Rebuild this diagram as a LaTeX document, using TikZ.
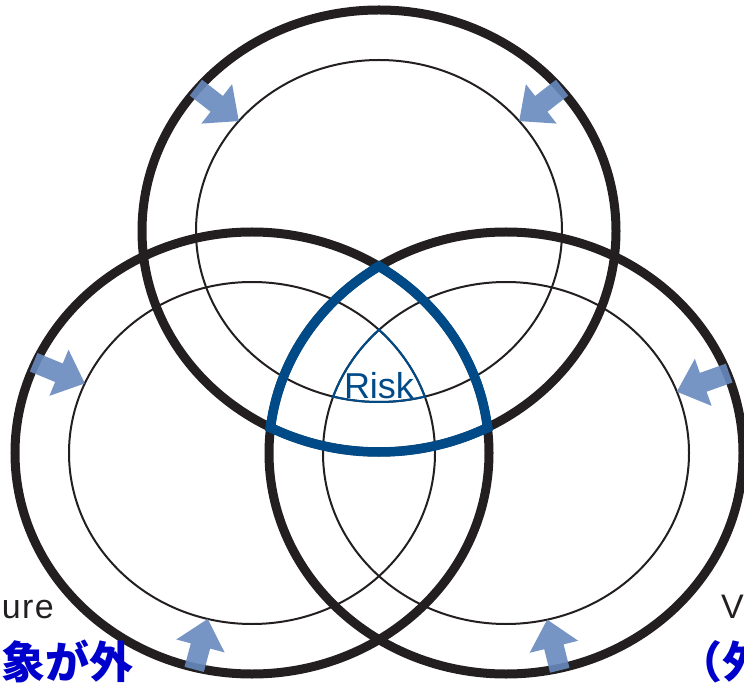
\documentclass[tikz,border=0pt]{standalone}
\usepackage{fontspec}
\setmainfont{Liberation Sans}
\newfontfamily\cjk{Noto Sans CJK JP}
\usetikzlibrary{calc}

\definecolor{ringblack}{RGB}{35,31,32}
\definecolor{riskblue}{RGB}{0,75,135}
\definecolor{arrowblue}{RGB}{104,138,190}
\definecolor{textblue}{RGB}{0,0,204}

\tikzset{
	outerring/.style={draw=ringblack, line width=9pt},
	innerring/.style={draw=ringblack, line width=2pt},
	riskouter/.style={draw=riskblue, line width=9.5pt},
	riskinner/.style={draw=riskblue, line width=2pt},
	labeltext/.style={font=\fontsize{34}{34}\selectfont\addfontfeature{LetterSpace=4}, text=ringblack},
	jptext/.style={font=\cjk\bfseries\fontsize{44}{44}\selectfont, text=textblue}
}

% block arrow from the outer ring to the inner ring
\newcommand{\inarrow}[2]{%
	\coordinate (tail) at ($(#1)+(#2:239 and 223)$);
	\coordinate (tip) at ($(#1)+(#2:183 and 171)$);
	\coordinate (neck) at ($(tip)!28pt!(tail)$);
	\fill[arrowblue, opacity=.9] ($(tail)!10pt!90:(tip)$) -- ($(neck)!10pt!90:(tip)$)
		-- ($(neck)!25pt!90:(tip)$) -- (tip) -- ($(neck)!25pt!-90:(tip)$)
		-- ($(neck)!10pt!-90:(tip)$) -- ($(tail)!10pt!-90:(tip)$) -- cycle;
}

\begin{document}
\begin{tikzpicture}[x=1pt,y=-1pt]
	\useasboundingbox (0,0) rectangle (744,684);
	\clip (0,0) rectangle (744,684);
	
	% centres of the three rings
	\coordinate (T) at (379,231);
	\coordinate (L) at (252,453);
	\coordinate (R) at (506,453);
	
	% outer and inner rings
	\foreach \c in {T,L,R} {
		\draw[outerring] (\c) ellipse [x radius=237, y radius=221];
		\draw[innerring] (\c) ellipse [x radius=183, y radius=171];
	}
	
	% arrows pointing inwards
	\foreach \c/\t in {T/220, T/-40, L/204, R/-21, L/104, R/77}
	\inarrow{\c}{\t};
	
	% common part of the rings
	\foreach \c/\a/\b in {T/L/R, L/R/T, R/T/L} {
		\begin{scope}
			\clip (\a) ellipse [x radius=242, y radius=226];
			\clip (\b) ellipse [x radius=242, y radius=226];
			\draw[riskouter] (\c) ellipse [x radius=237, y radius=221];
		\end{scope}
		\begin{scope}
			\clip (\a) ellipse [x radius=184.5, y radius=172.5];
			\clip (\b) ellipse [x radius=184.5, y radius=172.5];
			\draw[riskinner] (\c) ellipse [x radius=183, y radius=171];
		\end{scope}
	}
	
	% labels
	\node[anchor=base, text=riskblue, font=\fontsize{36}{36}\selectfont] (risk) at (379,398) {Risk};
	\node[labeltext, anchor=base east, inner sep=0pt] (exposure) at (54,618) {ure};
	\node[labeltext, anchor=base west, inner sep=0pt] (vuln) at (721,618) {V};
	\node[jptext, anchor=base east, inner sep=0pt] (jpleft) at (134,678) {象が外};
	\node[jptext, anchor=base west, inner sep=0pt] (jpright) at (678,678) {（外};
\end{tikzpicture}
\end{document}
